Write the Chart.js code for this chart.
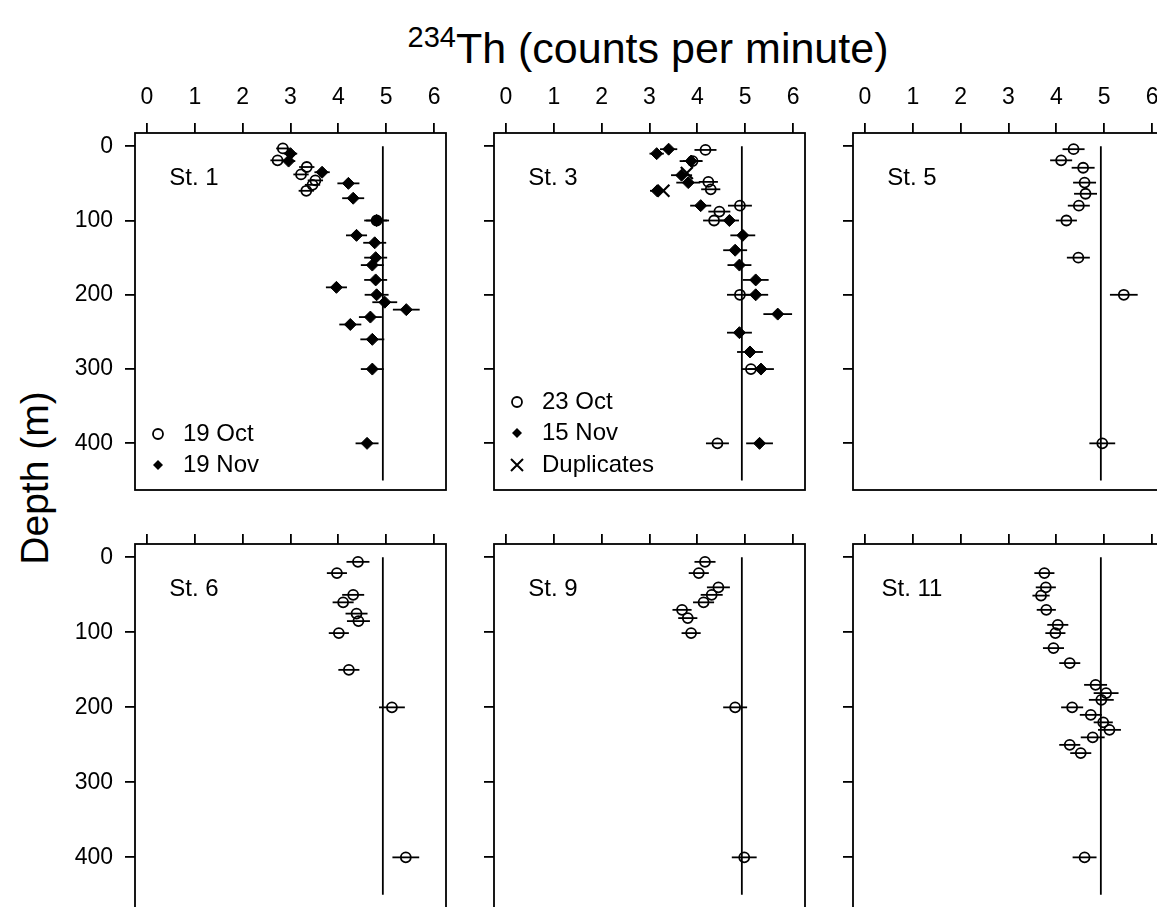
<!DOCTYPE html>
<html>
<head>
<meta charset="utf-8">
<script src="https://cdn.jsdelivr.net/npm/chart.js@4.4.0/dist/chart.umd.min.js"></script>
<style>
  html, body { margin: 0; padding: 0; background: #fff; overflow: hidden; width: 1157px; height: 907px; }
  body { position: relative; font-family: "Liberation Sans", Arial, Helvetica, sans-serif; color: #000; }
  canvas { position: absolute; }
  #title { position: absolute; left: 0; top: 23px; width: 1296px; text-align: center; font-size: 43px; line-height: 1; white-space: nowrap; }
  #title span { font-size: 29px; vertical-align: 16px; }
  #ylabel { position: absolute; left: 35px; top: 478px; transform: translate(-50%, -50%) rotate(-90deg); font-size: 39px; white-space: nowrap; }
</style>
</head>
<body>
<div id="title"><span>234</span>Th (counts per minute)</div>
<div id="ylabel">Depth (m)</div>
<script>
// axis ticks
const thTicks = [0, 1, 2, 3, 4, 5, 6];
const depthTicks = [0, 100, 200, 300, 400];
// equilibrium line
const equilibrium = 4.93;
const equilibriumDepth = [0, 450];

// St. 1
const st1OctDepth = [3, 19, 28, 38, 46, 52, 60, 100];
const st1OctTh = [2.84, 2.73, 3.34, 3.22, 3.52, 3.46, 3.33, 4.80];
const st1OctErr = [0.14, 0.15, 0.16, 0.16, 0.16, 0.16, 0.16, 0.22];
const st1NovDepth = [10, 20, 35, 50, 70, 100, 120, 130, 150, 160, 180, 190, 200, 210, 220, 230, 240, 260, 300, 400];
const st1NovTh = [3.00, 2.96, 3.66, 4.21, 4.31, 4.80, 4.38, 4.76, 4.78, 4.71, 4.78, 3.96, 4.80, 4.97, 5.42, 4.67, 4.25, 4.71, 4.71, 4.60];
const st1NovErr = [0.14, 0.14, 0.16, 0.23, 0.23, 0.26, 0.22, 0.24, 0.24, 0.24, 0.24, 0.22, 0.25, 0.26, 0.28, 0.24, 0.23, 0.25, 0.24, 0.24];

// St. 3
const st3OctDepth = [5, 20, 48, 58, 80, 88, 100, 200, 300, 400];
const st3OctTh = [4.17, 3.90, 4.23, 4.28, 4.89, 4.46, 4.35, 4.89, 5.12, 4.42];
const st3OctErr = [0.23, 0.2, 0.2, 0.2, 0.25, 0.23, 0.23, 0.27, 0.2, 0.24];
const st3NovDepth = [4, 10, 20, 39, 49, 60, 80, 100, 120, 140, 160, 180, 200, 226, 251, 277, 300, 400];
const st3NovTh = [3.40, 3.15, 3.87, 3.67, 3.81, 3.16, 4.07, 4.67, 4.95, 4.79, 4.88, 5.22, 5.22, 5.68, 4.88, 5.10, 5.33, 5.30];
const st3NovErr = [0.18, 0.15, 0.24, 0.22, 0.25, 0.15, 0.22, 0.2, 0.26, 0.25, 0.25, 0.27, 0.26, 0.3, 0.26, 0.27, 0.27, 0.28];
const st3DupDepth = [36, 60];
const st3DupTh = [3.78, 3.29];

// St. 5
const st5Depth = [4, 19, 29, 49, 64, 80, 100, 150, 200, 400];
const st5Th = [4.36, 4.10, 4.56, 4.59, 4.61, 4.47, 4.21, 4.46, 5.41, 4.96];
const st5Err = [0.23, 0.23, 0.24, 0.24, 0.24, 0.23, 0.22, 0.24, 0.29, 0.27];

// St. 6
const st6Depth = [6, 21, 50, 60, 75, 85, 101, 150, 200, 400];
const st6Th = [4.41, 3.97, 4.31, 4.10, 4.38, 4.42, 4.01, 4.22, 5.12, 5.41];
const st6Err = [0.24, 0.21, 0.23, 0.22, 0.23, 0.24, 0.21, 0.22, 0.27, 0.28];

// St. 9
const st9Depth = [6, 21, 40, 50, 60, 70, 81, 101, 200, 400];
const st9Th = [4.16, 4.03, 4.44, 4.30, 4.13, 3.68, 3.80, 3.87, 4.79, 4.98];
const st9Err = [0.22, 0.21, 0.24, 0.23, 0.22, 0.2, 0.2, 0.2, 0.25, 0.26];

// St. 11
const st11Depth = [21, 40, 51, 70, 90, 101, 121, 141, 170, 181, 190, 200, 210, 220, 230, 240, 250, 261, 400];
const st11Th = [3.75, 3.78, 3.68, 3.79, 4.03, 3.98, 3.94, 4.28, 4.82, 5.04, 4.94, 4.33, 4.72, 4.98, 5.11, 4.76, 4.28, 4.51, 4.59];
const st11Err = [0.21, 0.21, 0.18, 0.2, 0.22, 0.21, 0.22, 0.22, 0.24, 0.26, 0.26, 0.23, 0.23, 0.2, 0.24, 0.25, 0.22, 0.22, 0.25];

// layout (pixels)
const boxW = 311;
const colLeft = [135, 494, 853];
const rowTop = [133, 544];
const rowBoxH = [357, 370];
const rowDepthMax = [462.8, 475.5];
const depthMin = -17.8;
const FONT = '"Liberation Sans", Arial, Helvetica, sans-serif';
const LW = 1.8;

function pts(th, depth) {
  return th.map((v, i) => ({ x: v, y: depth[i] }));
}

function openCircles(th, depth, err) {
  return { data: pts(th, depth), xErr: err, pointStyle: 'circle', pointRadius: 5, pointBorderWidth: LW,
    pointBorderColor: '#000', pointBackgroundColor: 'rgba(0,0,0,0)' };
}
function diamonds(th, depth, err) {
  return { data: pts(th, depth), xErr: err, pointStyle: 'rectRot', pointRadius: 6, pointBorderWidth: 1,
    pointBorderColor: '#000', pointBackgroundColor: '#000' };
}
function crosses(th, depth) {
  return { data: pts(th, depth), pointStyle: 'crossRot', pointRadius: 8.5, pointBorderWidth: 2.2,
    pointBorderColor: '#000', pointBackgroundColor: '#000' };
}
function eqLine() {
  return { data: equilibriumDepth.map(d => ({ x: equilibrium, y: d })), showLine: true, borderColor: '#000',
    borderWidth: LW, pointRadius: 0 };
}

const errorBars = {
  id: 'errorBars',
  beforeDatasetsDraw(chart) {
    const { ctx, chartArea: a, scales: { x, y } } = chart;
    ctx.save();
    ctx.beginPath();
    ctx.rect(a.left, a.top, a.right - a.left, a.bottom - a.top);
    ctx.clip();
    ctx.strokeStyle = '#000';
    ctx.lineWidth = LW;
    chart.data.datasets.forEach(ds => {
      if (!ds.xErr) return;
      ds.data.forEach((p, i) => {
        const e = ds.xErr[i];
        const py = y.getPixelForValue(p.y);
        ctx.beginPath();
        ctx.moveTo(x.getPixelForValue(p.x - e), py);
        ctx.lineTo(x.getPixelForValue(p.x + e), py);
        ctx.stroke();
      });
    });
    ctx.restore();
  }
};

function legendMarker(ctx, kind, x, y) {
  ctx.beginPath();
  if (kind === 'circle') {
    ctx.lineWidth = LW;
    ctx.arc(x, y, 5, 0, Math.PI * 2);
    ctx.stroke();
  } else if (kind === 'diamond') {
    ctx.moveTo(x - 5, y); ctx.lineTo(x, y - 5); ctx.lineTo(x + 5, y); ctx.lineTo(x, y + 5);
    ctx.closePath();
    ctx.fill();
  } else {
    ctx.lineWidth = 2;
    ctx.moveTo(x - 6, y - 6); ctx.lineTo(x + 6, y + 6);
    ctx.moveTo(x + 6, y - 6); ctx.lineTo(x - 6, y + 6);
    ctx.stroke();
  }
}

const panelDecor = {
  id: 'panelDecor',
  afterDraw(chart, args, opts) {
    const { ctx, chartArea: a } = chart;
    ctx.save();
    ctx.strokeStyle = '#000';
    ctx.fillStyle = '#000';
    ctx.lineWidth = LW;
    ctx.strokeRect(a.left, a.top, a.right - a.left, a.bottom - a.top);
    ctx.font = '24px ' + FONT;
    ctx.textBaseline = 'middle';
    ctx.textAlign = 'center';
    ctx.fillText(opts.station, a.left + 59, a.top + 45);
    ctx.textAlign = 'left';
    (opts.legend || []).forEach(item => {
      const sy = a.top + item.dy;
      legendMarker(ctx, item.marker, a.left + 23, sy);
      ctx.fillText(item.label, a.left + 48, sy);
    });
    ctx.restore();
  }
};

function noPadding(s) {
  s.paddingTop = 0; s.paddingBottom = 0; s.paddingLeft = 0; s.paddingRight = 0;
}

function makePanel(row, col, station, datasets, legend) {
  const L = 110, T = row === 0 ? 60 : 20, pad = 4;
  const canvas = document.createElement('canvas');
  canvas.width = pad + L + boxW + pad;
  canvas.height = pad + T + rowBoxH[row] + pad;
  canvas.style.left = (colLeft[col] - L - pad) + 'px';
  canvas.style.top = (rowTop[row] - T - pad) + 'px';
  document.body.appendChild(canvas);

  const tickFont = { family: FONT, size: 23 };
  new Chart(canvas, {
    type: 'scatter',
    data: { datasets: [eqLine()].concat(datasets) },
    options: {
      responsive: false,
      animation: false,
      layout: { padding: pad, autoPadding: false },
      plugins: {
        legend: { display: false },
        tooltip: { enabled: false },
        panelDecor: { station: station, legend: legend }
      },
      scales: {
        x: {
          type: 'linear', position: 'top', min: -0.25, max: 6.25,
          afterBuildTicks: s => { s.ticks = thTicks.map(v => ({ value: v })); },
          afterFit: s => { s.height = T; noPadding(s); },
          grid: { drawOnChartArea: false, drawTicks: true, tickLength: 10, color: '#000', lineWidth: LW },
          border: { display: false },
          ticks: { display: row === 0, padding: 12, color: '#000', font: tickFont }
        },
        y: {
          type: 'linear', position: 'left', reverse: true, min: depthMin, max: rowDepthMax[row],
          afterBuildTicks: s => { s.ticks = depthTicks.map(v => ({ value: v })); },
          afterFit: s => { s.width = L; noPadding(s); },
          grid: { drawOnChartArea: false, drawTicks: true, tickLength: 10, color: '#000', lineWidth: LW },
          border: { display: false },
          ticks: { display: col === 0, padding: 12, color: '#000', font: tickFont }
        }
      }
    },
    plugins: [errorBars, panelDecor]
  });
}

makePanel(0, 0, 'St. 1',
  [openCircles(st1OctTh, st1OctDepth, st1OctErr), diamonds(st1NovTh, st1NovDepth, st1NovErr)],
  [{ marker: 'circle', label: '19 Oct', dy: 301 }, { marker: 'diamond', label: '19 Nov', dy: 332 }]);

makePanel(0, 1, 'St. 3',
  [openCircles(st3OctTh, st3OctDepth, st3OctErr), diamonds(st3NovTh, st3NovDepth, st3NovErr), crosses(st3DupTh, st3DupDepth)],
  [{ marker: 'circle', label: '23 Oct', dy: 269 }, { marker: 'diamond', label: '15 Nov', dy: 300 },
   { marker: 'cross', label: 'Duplicates', dy: 332 }]);

makePanel(0, 2, 'St. 5', [openCircles(st5Th, st5Depth, st5Err)], []);
makePanel(1, 0, 'St. 6', [openCircles(st6Th, st6Depth, st6Err)], []);
makePanel(1, 1, 'St. 9', [openCircles(st9Th, st9Depth, st9Err)], []);
makePanel(1, 2, 'St. 11', [openCircles(st11Th, st11Depth, st11Err)], []);
</script>
</body>
</html>
